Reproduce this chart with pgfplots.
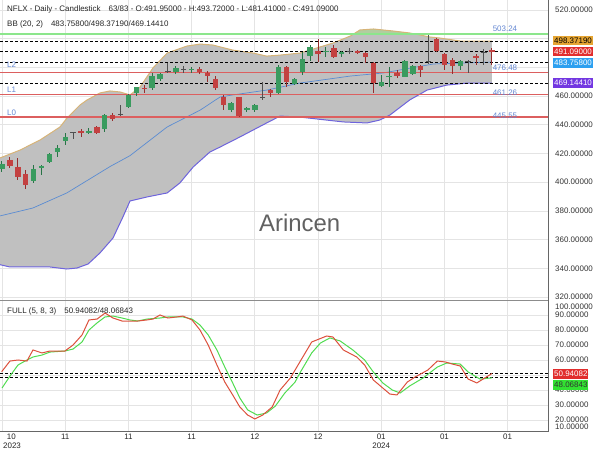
\documentclass[border=0pt]{standalone}
\usepackage{pgfplots}
\pgfplotsset{compat=1.18}
\usepackage{pgfplotstable}
\usepgfplotslibrary{fillbetween}
\usepackage{fontspec}
\setmainfont{Liberation Sans}
\newcommand{\smallf}{\fontsize{8}{9.6}\selectfont}
\definecolor{gridc}{RGB}{228,228,228}
\definecolor{bbfill}{RGB}{192,192,192}
\definecolor{bbgreen}{RGB}{178,205,160}
\definecolor{bbup}{RGB}{215,180,120}
\definecolor{bblo}{RGB}{110,100,220}
\definecolor{bbmid}{RGB}{90,140,210}
\definecolor{upbody}{RGB}{58,155,95}
\definecolor{upwick}{RGB}{40,115,70}
\definecolor{dnbody}{RGB}{195,65,65}
\definecolor{dnwick}{RGB}{150,45,45}
\definecolor{dojic}{RGB}{80,80,80}
\definecolor{lvl}{RGB}{220,95,95}
\definecolor{lvllab}{RGB}{100,135,210}
\definecolor{gline}{RGB}{140,230,140}
\definecolor{kred}{RGB}{220,80,60}
\definecolor{dgreen}{RGB}{80,220,80}
\definecolor{boxor}{RGB}{230,165,50}
\definecolor{boxred}{RGB}{225,45,45}
\definecolor{boxblue}{RGB}{45,160,240}
\definecolor{boxpur}{RGB}{115,55,225}
\definecolor{boxgr}{RGB}{50,225,50}

\pgfplotstableread{
i o h l c
0 409.2 415.0 407.0 412.7
4 400.8 412.0 399.4 409.2
5 410.0 412.0 405.0 411.3
6 414.0 420.3 413.4 419.6
7 421.0 426.0 417.6 423.8
8 428.7 434.3 425.9 431.5
11 434.3 437.8 433.6 435.7
13 437.1 447.5 435.0 446.8
16 452.4 461.5 451.7 460.8
17 462.2 466.3 460.0 466.3
19 465.6 476.0 464.2 474.0
20 471.9 476.1 470.5 475.4
22 476.8 481.0 475.4 479.6
24 478.2 480.3 476.1 478.9
29 450.3 455.9 448.9 455.2
31 450.3 452.4 448.9 451.7
32 450.3 454.5 448.9 453.8
35 462.2 481.7 461.5 480.3
37 468.4 472.6 467.7 471.9
38 476.8 490.7 474.7 485.9
39 488.0 495.6 484.5 494.2
41 490.7 494.2 487.2 491.4
43 489.3 491.4 487.2 490.7
48 467.0 474.7 466.3 469.8
49 473.3 480.3 466.3 474.0
51 473.3 485.2 473.3 484.5
52 475.4 481.7 474.7 481.0
58 481.0 485.2 478.2 484.5
}\upc

\pgfplotstableread{
i o h l c
1 415.5 417.6 409.9 411.3
2 410.6 416.9 401.5 403.6
3 405.7 408.5 395.3 398.0
10 435.7 437.0 431.5 434.3
12 438.5 439.2 434.0 434.3
14 446.8 448.2 442.6 444.0
18 465.6 467.7 462.0 464.9
25 478.9 480.3 475.4 476.8
26 476.1 477.5 469.8 474.0
27 471.9 474.0 464.2 465.6
28 459.4 460.8 450.3 453.8
30 459.4 459.4 445.4 446.1
34 464.2 464.9 459.4 462.2
36 480.3 481.0 466.3 469.8
40 491.4 499.8 483.8 489.3
42 493.5 495.6 486.5 487.2
45 491.4 492.1 489.3 490.0
46 490.0 490.7 483.1 487.2
47 483.1 483.8 462.2 469.1
50 476.1 478.2 472.6 474.0
53 481.0 481.7 473.3 478.2
55 499.8 500.5 491.0 491.4
56 489.3 490.0 478.2 481.7
57 485.2 486.5 475.4 481.0
60 487.9 489.3 481.7 486.5
62 491.95 493.72 481.41 491.09
}\dnc

\pgfplotstableread{
i o h l c
9 434.0 434.8 430.0 434.5
15 446.8 453.8 446.0 447.2
21 477.5 483.0 476.0 477.1
23 478.2 481.0 476.1 478.5
33 458.7 469.8 457.3 459.0
44 491.1 493.5 489.3 491.4
54 483.1 502.6 482.4 483.8
59 483.4 485.2 476.1 483.8
61 490.0 492.8 481.7 490.7
}\dojc

\begin{document}
\begin{tikzpicture}
% ---------------- main panel ----------------
\begin{axis}[
  at={(0bp,150bp)}, anchor=south west,
  width=548bp, height=300bp, scale only axis,
  xmin=-0.253, xmax=69.11, ymin=317.9, ymax=527.0,
  set layers, clip mode=individual,
  axis line style={draw=none},
  tick style={draw=none},
  xtick={0,8,...,64}, xticklabels={{},{},{},{},{},{},{},{},{}},
  ytick={320,340,360,380,400,420,440,460,520},
  extra y ticks={480,500}, extra y tick labels={{},{}},
  extra y tick style={grid=major},
  yticklabel pos=right,
  yticklabel={\pgfmathprintnumber[fixed,fixed zerofill,precision=5,assume math mode=true]{\tick}},
  yticklabel style={font=\smallf, text=black!80, anchor=west, inner sep=0pt, xshift=7bp},
  grid=major, major grid style={draw=gridc, line width=0.8bp},
]
% Bollinger bands
\addplot[bbup, line width=1bp, name path=up] coordinates {
(-0.25,416.9) (2.28,422.4) (4.81,429.4) (7.34,438.5) (8.23,444.7) (9.87,453.8) (10.76,457.3) (12.4,462.2) (13.67,463.6) (14.94,462.9) (16.2,460.8) (17.47,466.3) (19.1,479.6) (20.9,490.0) (23.4,494.9) (25.1,496.3) (26.7,495.6) (29.2,492.1) (31.8,490.0) (33.5,487.9) (35.2,488.6) (37.7,490.0) (41.9,497.0) (44.1,501.9) (45.3,506.1) (47.0,506.8) (49.5,505.4) (51.6,504.0) (54.2,501.2) (55.4,500.5) (58.0,498.4) (62,498.37)};
\addplot[bblo, line width=1bp, name path=lo] coordinates {
(-0.25,342.5) (1.01,340.9) (3.9,340.9) (6.1,340.9) (8.2,339.5) (9.5,340.2) (10.9,343.0) (12.4,350.7) (14.05,361.1) (15.3,375.7) (16.2,386.9) (18.35,389.7) (20.9,392.5) (22.5,399.4) (24.2,410.6) (26.3,421.0) (27.6,424.5) (30.1,431.5) (33.5,441.3) (35.2,446.1) (37.7,445.4) (43.2,442.0) (46.2,441.3) (47.8,443.3) (49.1,446.8) (51.6,457.3) (53.8,464.2) (56.3,467.7) (58.9,469.1) (62,469.14)};
\addplot[bbfill] fill between[of=up and lo];
\addplot[bbmid, line width=0.7bp] coordinates {
(-0.25,376.5) (3.9,382.0) (8.2,392.5) (11.5,403.6) (13.7,411.0) (16.2,418.5) (20.9,438.5) (25.1,450.3) (27.6,459.4) (29.2,460.8) (33.5,464.2) (37.7,469.1) (44.1,474.0) (48.2,476.1) (54.6,482.4) (62,483.76)};
% levels
\addplot[gline, line width=2bp, name path=gl] coordinates {(-0.253,503.24) (69.11,503.24)};
\addplot[bbgreen] fill between[of=up and gl, soft clip={domain=44.48:52.3}];
\addplot[lvl, line width=1.3bp] coordinates {(-0.253,476.48) (69.11,476.48)};
\addplot[lvl, line width=1.3bp] coordinates {(-0.253,461.26) (69.11,461.26)};
\addplot[lvl, line width=1.3bp] coordinates {(-0.253,445.55) (69.11,445.55)};
\addplot[black, line width=0.8bp, dash pattern=on 3bp off 2bp] coordinates {(-0.253,498.3719) (69.11,498.3719)};
\addplot[black, line width=0.8bp, dash pattern=on 3bp off 2bp] coordinates {(-0.253,491.09) (69.11,491.09)};
\addplot[black, line width=0.8bp, dash pattern=on 3bp off 2bp] coordinates {(-0.253,483.758) (69.11,483.758)};
\addplot[black, line width=0.8bp, dash pattern=on 3bp off 2bp] coordinates {(-0.253,469.1441) (69.11,469.1441)};
% candles: up
\addplot[draw=none, mark=none, error bars/.cd, y dir=both, y explicit, error mark=none,
  error bar style={draw=upwick, line width=1bp}]
  table[x=i, y=c, y error plus expr=\thisrow{h}-\thisrow{c}, y error minus expr=\thisrow{c}-\thisrow{l}] {\upc};
\addplot[draw=none, mark=none, error bars/.cd, y dir=minus, y explicit, error mark=none,
  error bar style={draw=upbody, line width=5.4bp}]
  table[x=i, y=c, y error minus expr=\thisrow{c}-\thisrow{o}] {\upc};
% candles: down
\addplot[draw=none, mark=none, error bars/.cd, y dir=both, y explicit, error mark=none,
  error bar style={draw=dnwick, line width=1bp}]
  table[x=i, y=c, y error plus expr=\thisrow{h}-\thisrow{c}, y error minus expr=\thisrow{c}-\thisrow{l}] {\dnc};
\addplot[draw=none, mark=none, error bars/.cd, y dir=minus, y explicit, error mark=none,
  error bar style={draw=dnbody, line width=5.4bp}]
  table[x=i, y=o, y error minus expr=\thisrow{o}-\thisrow{c}] {\dnc};
% doji
\addplot[only marks, mark=-, mark size=2.7bp, mark options={draw=dojic, line width=1bp},
  error bars/.cd, y dir=both, y explicit, error mark=none,
  error bar style={draw=dojic, line width=1bp}]
  table[x=i, y=c, y error plus expr=\thisrow{h}-\thisrow{c}, y error minus expr=\thisrow{c}-\thisrow{l}] {\dojc};
% frame
\draw[black!60, line width=1bp] (rel axis cs:1,0) -- (rel axis cs:1,1);
% texts
\node[anchor=west, font=\smallf, text=black!85, inner sep=0pt] at (rel axis cs:0.0128,0.967)
  {NFLX - Daily - Candlestick\quad 63/83 - O:491.95000 - H:493.72000 - L:481.41000 - C:491.09000};
\node[anchor=west, font=\smallf, text=black!85, inner sep=0pt] at (rel axis cs:0.0128,0.917)
  {BB (20, 2)\quad 483.75800/498.37190/469.14410};
\node[anchor=west, font=\smallf, text=lvllab, inner sep=0pt] at (rel axis cs:0.0128,0.783) {L2};
\node[anchor=west, font=\smallf, text=lvllab, inner sep=0pt] at (rel axis cs:0.0128,0.700) {L1};
\node[anchor=west, font=\smallf, text=lvllab, inner sep=0pt] at (rel axis cs:0.0128,0.623) {L0};
\node[font=\smallf, text=lvllab, inner sep=0pt] at (rel axis cs:0.9215,0.903) {503.24};
\node[font=\smallf, text=lvllab, inner sep=0pt] at (rel axis cs:0.9215,0.775) {476.48};
\node[font=\smallf, text=lvllab, inner sep=0pt] at (rel axis cs:0.9215,0.690) {461.26};
\node[font=\smallf, text=lvllab, inner sep=0pt] at (rel axis cs:0.9215,0.613) {445.55};
\node[font=\fontsize{24}{28}\selectfont, text=black!62] at (rel axis cs:0.547,0.257) {Arincen};
% value boxes
\node[anchor=west, xshift=5bp, yshift=0.6bp, fill=boxor, text=black, font=\smallf, inner xsep=1bp, inner ysep=0pt, minimum height=9.8bp]
  at ({rel axis cs:1,0}|-{axis cs:0,498.3719}) {498.37190};
\node[anchor=west, xshift=5bp, fill=boxred, text=white, font=\smallf, inner xsep=1bp, inner ysep=0pt, minimum height=9.8bp]
  at ({rel axis cs:1,0}|-{axis cs:0,491.09}) {491.09000};
\node[anchor=west, xshift=5bp, yshift=-0.6bp, fill=boxblue, text=white, font=\smallf, inner xsep=1bp, inner ysep=0pt, minimum height=9.8bp]
  at ({rel axis cs:1,0}|-{axis cs:0,483.758}) {483.75800};
\node[anchor=west, xshift=5bp, fill=boxpur, text=white, font=\smallf, inner xsep=1bp, inner ysep=0pt, minimum height=9.8bp]
  at ({rel axis cs:1,0}|-{axis cs:0,469.1441}) {469.14410};
\end{axis}

% ---------------- stochastic panel ----------------
\begin{axis}[
  at={(0bp,18bp)}, anchor=south west,
  width=548bp, height=132bp, scale only axis,
  xmin=-0.253, xmax=69.11, ymin=12, ymax=100,
  set layers, clip mode=individual,
  axis line style={draw=none},
  tick style={draw=none},
  xtick={0,8,...,64},
  xticklabels={{\hbox to 0pt{\hskip5bp 10\hss}},11,11,11,12,12,01,01,01},
  xticklabel style={font=\smallf, text=black!85, anchor=north, inner sep=1.5bp},
  ytick={20,30,...,90},
  yticklabel pos=right,
  yticklabel={\pgfmathprintnumber[fixed,fixed zerofill,precision=5,assume math mode=true]{\tick}},
  yticklabel style={font=\smallf, text=black!80, anchor=west, inner sep=0pt, xshift=7bp},
  grid=major, major grid style={draw=gridc, line width=0.8bp},
]
\addplot[black, line width=0.8bp, dash pattern=on 3bp off 2bp] coordinates {(-0.253,50.94082) (69.11,50.94082)};
\addplot[black, line width=0.8bp, dash pattern=on 3bp off 2bp] coordinates {(-0.253,48.06843) (69.11,48.06843)};
\addplot[dgreen, line width=1bp] coordinates {
(0,41.3) (1.01,49.3) (2.03,56.7) (3.16,60) (3.92,62) (5.06,63.3) (6.08,65.3) (7.97,66) (8.99,67.3) (10.13,72) (11.01,80) (12.03,84.7) (13.04,88.7) (14.05,89.3) (15.19,88) (16.2,86.7) (17.2,86) (18.35,87.3) (20.0,88) (21.0,88.7) (22.9,88.7) (24.05,87.3) (25.06,83.3) (26.1,76.7) (27.2,66.7) (28.2,55.3) (29.2,44.7) (30.1,34.7) (31.1,26.7) (32.3,23.3) (33.5,24.7) (34.6,29.3) (35.8,38) (37.1,45.3) (37.7,51.3) (39.2,64.7) (40.3,71.3) (41.5,74.7) (42.8,72.7) (44.4,66.7) (45.9,60) (47.0,52) (48.2,44.7) (49.4,40) (50.4,38) (51.6,42.7) (53.3,48) (55.1,55.3) (56.3,58) (58.0,57.3) (59.0,52) (60.5,47.3) (62,48.07)};
\addplot[kred, line width=1bp] coordinates {
(-0.04,52.2) (1.01,59.3) (2.03,60) (3.16,59.3) (3.92,66.7) (5.06,64.7) (6.08,66) (7.97,66) (8.99,70) (10.13,76.7) (11.01,86.7) (12.03,87.3) (13.04,91.3) (14.05,88) (15.19,86) (16.2,86) (17.2,86) (18.35,86.7) (19.1,87.3) (20.0,90) (21.0,88) (22.15,88.7) (22.9,89.3) (24.05,86.7) (25.06,80) (26.1,70) (27.2,56.7) (28.2,45.3) (29.2,36.7) (30.1,28.7) (31.1,23.3) (32.0,20.7) (33.0,23.3) (34.2,28.7) (35.2,40) (36.5,48) (37.7,58.7) (39.2,72) (41.1,76) (41.9,75.3) (43.2,66.7) (44.9,62) (45.9,56.7) (47.0,46.7) (48.2,41.3) (49.1,37.3) (50.0,36.7) (51.3,45.3) (52.3,48.7) (53.9,53.3) (55.1,59.3) (56.1,58.7) (57.0,57.3) (58.0,56) (59.0,47.3) (60.1,44.7) (61.1,48) (62,50.94)};
% frame
\draw[black!60, line width=1bp] (rel axis cs:1,0) -- (rel axis cs:1,1);
\draw[black!60, line width=1bp] (rel axis cs:0,0) -- (rel axis cs:1,0);
\draw[black!45, line width=1bp] (rel axis cs:0,1) -- (rel axis cs:1,1);
% texts
\node[anchor=west, font=\smallf, text=black!85, inner sep=0pt] at (rel axis cs:0.0128,0.917)
  {FULL (5, 8, 3)\quad 50.94082/48.06843};
\node[anchor=west, font=\smallf, text=black!80, inner sep=0pt, xshift=7bp] at (rel axis cs:1,0.947) {100.00000};
\node[anchor=west, font=\smallf, text=black!80, inner sep=0pt, xshift=7bp] at (rel axis cs:1,0.038) {10.00000};
\node[anchor=west, font=\smallf, text=black!85, inner sep=0pt, xshift=3bp, yshift=-13.5bp] at (rel axis cs:0,0) {2023};
\node[font=\smallf, text=black!85, inner sep=0pt, yshift=-13.5bp] at (axis cs:48,12) {2024};
\node[anchor=west, xshift=5bp, fill=boxred, text=white, font=\smallf, inner xsep=1bp, inner ysep=0pt, minimum height=10bp]
  at ({rel axis cs:1,0}|-{axis cs:0,50.94082}) {50.94082};
\node[anchor=west, xshift=5bp, yshift=-11bp, fill=boxgr, text=black!80, font=\smallf, inner xsep=1bp, inner ysep=0pt, minimum height=10bp]
  at ({rel axis cs:1,0}|-{axis cs:0,50.94082}) {48.06843};
\end{axis}
\pgfresetboundingbox
\useasboundingbox (0bp,0bp) rectangle (600bp,450bp);
\end{tikzpicture}
\end{document}
